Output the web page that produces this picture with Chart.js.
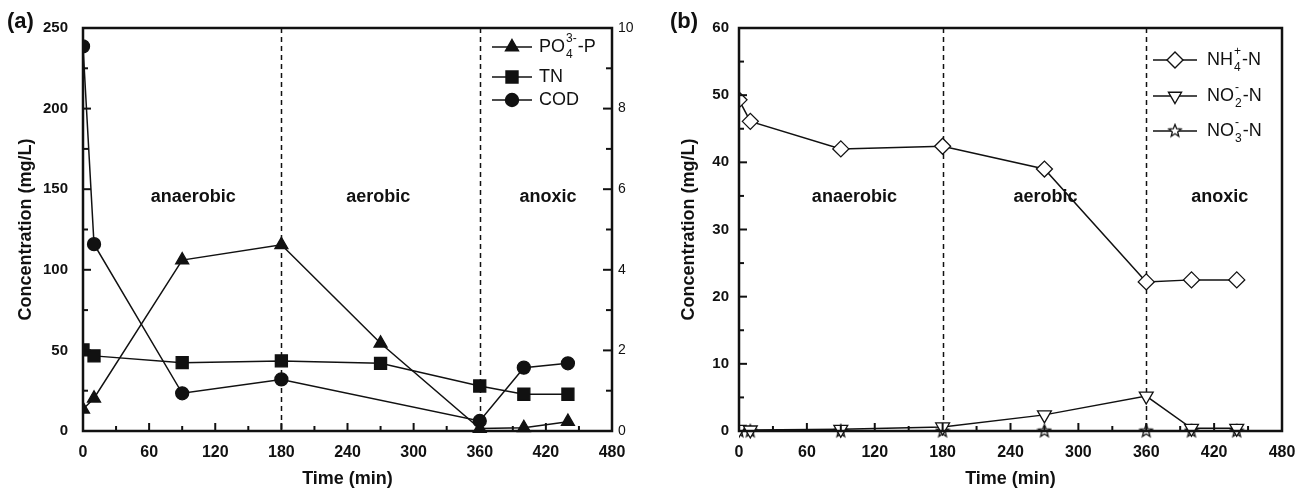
<!DOCTYPE html>
<html>
<head>
<meta charset="utf-8">
<script src="https://cdn.jsdelivr.net/npm/chart.js@4.4.0/dist/chart.umd.min.js"></script>
<style>
html,body{margin:0;padding:0;background:#fff;}
#wrap{position:relative;width:1298px;height:490px;}
.box{position:absolute;top:0;width:649px;height:490px;}
</style>
</head>
<body>
<div id="wrap">
  <div class="box" style="left:0"><canvas id="chartA"></canvas></div>
  <div class="box" style="left:649px"><canvas id="chartB"></canvas></div>
</div>
<script>
// panel (a)
const timeA = [0, 10, 90, 180, 270, 360, 400, 440];
const po4 = [13.5, 20.3, 106, 115.5, 54.4, 1.5, 2, 5.8];
const tn = [50.3, 46.6, 42.4, 43.5, 42, 27.9, 22.8, 22.8];
const codTime = [0, 10, 90, 180, 360, 400, 440];
const cod = [238.6, 115.9, 23.4, 32, 6.2, 39.3, 42];

// panel (b)
const timeB = [0, 10, 90, 180, 270, 360, 400, 440];
const nh4 = [49.3, 46.1, 42, 42.4, 39, 22.2, 22.5, 22.5];
const no2 = [0.25, 0.15, 0.25, 0.6, 2.4, 5.2, 0.4, 0.4];
const no3 = [0.05, 0.05, 0.05, 0.05, 0.05, 0.05, 0.05, 0.05];

const phaseNames = ["anaerobic", "aerobic", "anoxic"];
const phaseLines = [180, 360];
const phasePosA = [[100, 145], [268, 145], [422, 145]];
const phasePosB = [[102, 34.8], [271, 34.8], [425, 34.8]];

const FONT = "'Liberation Sans', Arial, sans-serif";
const INK = "#111";

function pts(xs, ys){ return xs.map((x,i)=>({x:x, y:ys[i]})); }

function starImg(){
  const c = document.createElement("canvas");
  c.width = 16; c.height = 16;
  const g = c.getContext("2d");
  g.beginPath();
  for(let i=0;i<10;i++){
    const r = i%2 ? 2.8 : 6.5;
    const a = -Math.PI/2 + i*Math.PI/5;
    g.lineTo(8 + r*Math.cos(a), 8.5 + r*Math.sin(a));
  }
  g.closePath();
  g.fillStyle = "#fff"; g.fill();
  g.lineWidth = 1.3; g.strokeStyle = INK; g.stroke();
  return c;
}
const STAR = starImg();

function marker(ctx, kind, x, y){
  ctx.save();
  ctx.lineWidth = 1.4; ctx.strokeStyle = INK;
  ctx.fillStyle = kind.fill ? INK : "#fff";
  ctx.beginPath();
  if(kind.shape=="tri"){ ctx.moveTo(x,y-7.5); ctx.lineTo(x+6.5,y+3.75); ctx.lineTo(x-6.5,y+3.75); ctx.closePath(); }
  else if(kind.shape=="dtri"){ ctx.moveTo(x,y+7.5); ctx.lineTo(x+6.5,y-3.75); ctx.lineTo(x-6.5,y-3.75); ctx.closePath(); }
  else if(kind.shape=="sq"){ ctx.rect(x-6,y-6,12,12); }
  else if(kind.shape=="circ"){ ctx.arc(x,y,6.5,0,Math.PI*2); }
  else if(kind.shape=="dia"){ ctx.moveTo(x,y-8); ctx.lineTo(x+8,y); ctx.lineTo(x,y+8); ctx.lineTo(x-8,y); ctx.closePath(); }
  if(kind.shape=="star"){ ctx.drawImage(STAR, x-8, y-8.5); }
  else { ctx.fill(); ctx.stroke(); }
  ctx.restore();
}

// text with stacked sub/superscripts
function chem(ctx, parts, x, y){
  ctx.textBaseline = "middle"; ctx.textAlign = "left"; ctx.fillStyle = INK;
  parts.forEach(p=>{
    if(typeof p=="string"){
      ctx.font = "18px " + FONT;
      ctx.fillText(p, x, y);
      x += ctx.measureText(p).width;
    } else {
      ctx.font = "12px " + FONT;
      let w = 0;
      if(p.sub){ ctx.fillText(p.sub, x+1, y+8); w = Math.max(w, ctx.measureText(p.sub).width); }
      if(p.sup){ ctx.fillText(p.sup, x+1, y-8); w = Math.max(w, ctx.measureText(p.sup).width); }
      x += w + 2;
    }
  });
}

function decor(cfg){
  return {
    id: "decor",
    beforeDatasetsDraw(chart){
      const ctx = chart.ctx, a = chart.chartArea, xs = chart.scales.x;
      ctx.save();
      ctx.strokeStyle = INK; ctx.lineWidth = 1.5; ctx.setLineDash([5,4]);
      phaseLines.forEach(v=>{
        const px = Math.round(xs.getPixelForValue(v)) + 0.5;
        ctx.beginPath(); ctx.moveTo(px, a.top); ctx.lineTo(px, a.bottom); ctx.stroke();
      });
      ctx.restore();
    },
    afterDatasetsDraw(chart){
      const ctx = chart.ctx, a = chart.chartArea, xs = chart.scales.x, ys = chart.scales.y;
      ctx.save();
      ctx.strokeStyle = INK; ctx.lineWidth = 2;
      // x ticks
      for(let v=0; v<=480; v+=30){
        const px = xs.getPixelForValue(v), len = v%60==0 ? 8 : 5;
        ctx.beginPath(); ctx.moveTo(px, a.bottom); ctx.lineTo(px, a.bottom-len); ctx.stroke();
      }
      for(let v=0; v<=cfg.yMax; v+=cfg.yMinor){
        const py = ys.getPixelForValue(v), len = Math.round(v/cfg.yMinor)%2==0 ? 8 : 5;
        ctx.beginPath(); ctx.moveTo(a.left, py); ctx.lineTo(a.left+len, py); ctx.stroke();
      }
      if(chart.scales.y1){
        const y1 = chart.scales.y1;
        for(let v=0; v<=10; v+=1){
          const py = y1.getPixelForValue(v), len = v%2==0 ? 9 : 6;
          ctx.beginPath(); ctx.moveTo(a.right, py); ctx.lineTo(a.right-len, py); ctx.stroke();
        }
      }
      ctx.lineWidth = 2.5;
      ctx.strokeRect(a.left, a.top, a.right-a.left, a.bottom-a.top);
      // phase labels
      ctx.fillStyle = INK; ctx.font = "bold 18px " + FONT;
      ctx.textAlign = "center"; ctx.textBaseline = "middle";
      cfg.phasePos.forEach((p,i)=>{
        ctx.fillText(phaseNames[i], xs.getPixelForValue(p[0]), ys.getPixelForValue(p[1]));
      });
      // panel label
      ctx.font = "bold 22px " + FONT; ctx.textAlign = "left";
      ctx.fillText(cfg.panel, cfg.panelX, 22);
      // legend
      cfg.legend.forEach(l=>{
        ctx.strokeStyle = INK; ctx.lineWidth = 1.5;
        ctx.beginPath(); ctx.moveTo(l.x0, l.y); ctx.lineTo(l.x1, l.y); ctx.stroke();
        marker(ctx, l.kind, (l.x0+l.x1)/2, l.y);
        chem(ctx, l.text, l.tx, l.y);
      });
      ctx.restore();
    }
  };
}

function line(data, style, radius, fill, rot){
  return {
    data: data, borderColor: INK, borderWidth: 1.5, tension: 0,
    pointStyle: style, pointRadius: radius, pointRotation: rot || 0,
    pointBackgroundColor: fill, pointBorderColor: INK, pointBorderWidth: 1.3,
    clip: {left: 0, top: 20, right: 20, bottom: 20}
  };
}

const tickFontX = {family: FONT, size: 16, weight: "bold"};
const tickFontY = {family: FONT, size: 15, weight: "bold"};
const titleFont = {family: FONT, size: 18, weight: "bold"};

function xScale(){
  return {
    type: "linear", min: 0, max: 480,
    ticks: {stepSize: 60, font: tickFontX, color: INK, padding: 12},
    grid: {display: false, drawTicks: false}, border: {display: false},
    title: {display: true, text: "Time (min)", font: titleFont, color: INK, padding: {top: 0, bottom: 0}},
    afterFit: s => { s.height = 59; s.paddingLeft = 0; s.paddingRight = 0; }
  };
}

new Chart(document.getElementById("chartA"), {
  type: "line",
  data: {
    datasets: [
      line(pts(timeA, po4), "triangle", 7.5, INK),
      line(pts(timeA, tn), "rect", 8.5, INK),
      line(pts(codTime, cod), "circle", 6.5, INK)
    ]
  },
  options: {
    animation: false, responsive: true, maintainAspectRatio: false,
    layout: {padding: {top: 28, left: 0, right: 0, bottom: 0}},
    plugins: {legend: {display: false}, tooltip: {enabled: false}},
    scales: {
      x: xScale(),
      y: {
        min: 0, max: 250, position: "left",
        ticks: {stepSize: 50, font: tickFontY, color: INK, padding: 15},
        grid: {display: false, drawTicks: false}, border: {display: false},
        title: {display: true, text: "Concentration (mg/L)", font: titleFont, color: INK, padding: {top: 15, bottom: 0}},
        afterFit: s => { s.width = 83; }
      },
      y1: {
        min: 0, max: 10, position: "right",
        ticks: {stepSize: 2, font: {family: FONT, size: 14}, color: INK, padding: 6},
        grid: {display: false, drawTicks: false}, border: {display: false},
        afterFit: s => { s.width = 37; }
      }
    }
  },
  plugins: [decor({
    yMax: 250, yMinor: 25, phasePos: phasePosA, panel: "(a)", panelX: 7,
    legend: [
      {x0: 492, x1: 532, y: 47, tx: 539, kind: {shape: "tri", fill: true}, text: ["PO", {sub: "4", sup: "3-"}, "-P"]},
      {x0: 492, x1: 532, y: 77, tx: 539, kind: {shape: "sq", fill: true}, text: ["TN"]},
      {x0: 492, x1: 532, y: 100, tx: 539, kind: {shape: "circ", fill: true}, text: ["COD"]}
    ]
  })]
});

new Chart(document.getElementById("chartB"), {
  type: "line",
  data: {
    datasets: [
      line(pts(timeB, nh4), "rectRot", 8, "#fff"),
      line(pts(timeB, no2), "triangle", 8, "#fff", 180),
      line(pts(timeB, no3), STAR, 7, "#fff")
    ]
  },
  options: {
    animation: false, responsive: true, maintainAspectRatio: false,
    layout: {padding: {top: 28, left: 0, right: 16, bottom: 0}},
    plugins: {legend: {display: false}, tooltip: {enabled: false}},
    scales: {
      x: xScale(),
      y: {
        min: 0, max: 60, position: "left",
        ticks: {stepSize: 10, font: tickFontY, color: INK, padding: 10},
        grid: {display: false, drawTicks: false}, border: {display: false},
        title: {display: true, text: "Concentration (mg/L)", font: titleFont, color: INK, padding: {top: 29, bottom: 0}},
        afterFit: s => { s.width = 90; }
      }
    }
  },
  plugins: [decor({
    yMax: 60, yMinor: 5, phasePos: phasePosB, panel: "(b)", panelX: 21,
    legend: [
      {x0: 504, x1: 548, y: 60, tx: 558, kind: {shape: "dia"}, text: ["NH", {sub: "4", sup: "+"}, "-N"]},
      {x0: 504, x1: 548, y: 96, tx: 558, kind: {shape: "dtri"}, text: ["NO", {sub: "2", sup: "-"}, "-N"]},
      {x0: 504, x1: 548, y: 131, tx: 558, kind: {shape: "star"}, text: ["NO", {sub: "3", sup: "-"}, "-N"]}
    ]
  })]
});
</script>
</body>
</html>
